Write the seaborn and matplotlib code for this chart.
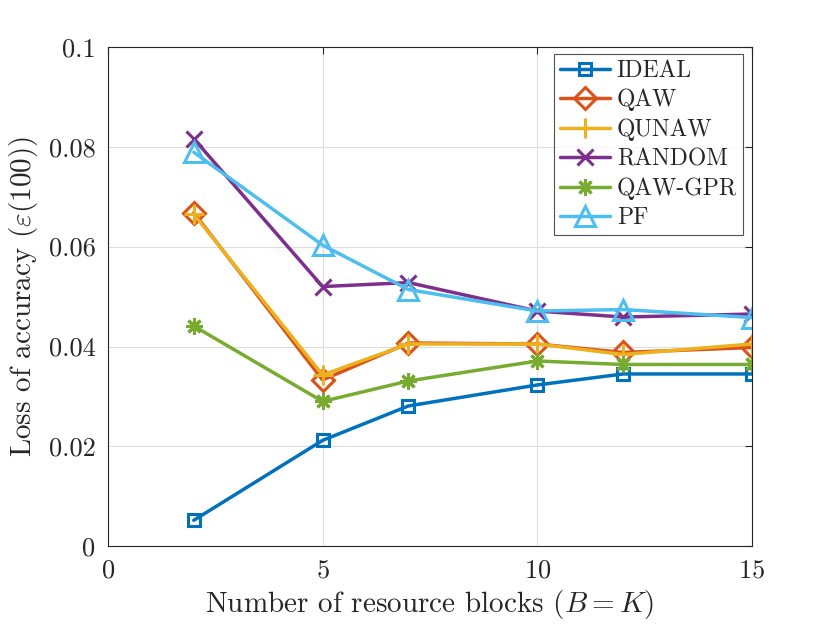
import pandas as pd
import seaborn as sns
import matplotlib.pyplot as plt

# data
blocks = [2, 5, 7, 10, 12, 15]
ideal = [0.0052, 0.0212, 0.0281, 0.0323, 0.0345, 0.0345]
qaw = [0.0668, 0.0333, 0.0407, 0.0405, 0.0388, 0.0398]
qunaw = [0.0665, 0.0343, 0.0405, 0.0405, 0.0384, 0.0405]
random_sel = [0.0816, 0.0520, 0.0528, 0.0471, 0.0459, 0.0465]
qaw_gpr = [0.0441, 0.0290, 0.0331, 0.0371, 0.0364, 0.0364]
pf = [0.0789, 0.0603, 0.0514, 0.0471, 0.0474, 0.0458]

series_names = ["IDEAL", "QAW", "QUNAW", "RANDOM", "QAW-GPR", "PF"]
series_values = [ideal, qaw, qunaw, random_sel, qaw_gpr, pf]
colors = ["#0072BD", "#D95319", "#EDB120", "#7E2F8E", "#77AC30", "#4DBEEE"]
markers = ["s", "D", "+", "x", (8, 2, 0), "^"]
msizes = [9, 11, 15, 11, 12, 14]

sns.set_style("white")
plt.rcParams["font.family"] = "serif"
plt.rcParams["font.serif"] = ["cmr10", "DejaVu Serif"]
plt.rcParams["mathtext.fontset"] = "cm"
plt.rcParams["axes.unicode_minus"] = False
plt.rcParams["axes.formatter.use_mathtext"] = True

fig = plt.figure(figsize=(8.3, 6.25), dpi=100)
ax = fig.add_axes([0.130, 0.126, 0.776, 0.799])

for name, vals, col, mk, ms in zip(series_names, series_values, colors, markers, msizes):
    df = pd.DataFrame({"B": blocks, "loss": vals})
    sns.lineplot(data=df, x="B", y="loss", ax=ax, color=col, linewidth=2.5,
                 marker=mk, markersize=ms, markerfacecolor="none",
                 markeredgecolor=col, markeredgewidth=2.2, label=name)

ax.set_xlim(0, 15)
ax.set_ylim(0, 0.1)
ax.set_xticks([0, 5, 10, 15])
ax.set_yticks([0, 0.02, 0.04, 0.06, 0.08, 0.1])
ax.set_yticklabels(["0", "0.02", "0.04", "0.06", "0.08", "0.1"])
ax.grid(True, color="#dedede", linewidth=0.8)
ax.tick_params(direction="in", length=5, width=0.8, labelsize=19, colors="#262626",
               top=True, right=True, pad=9)
for sp in ax.spines.values():
    sp.set_color("#262626")
    sp.set_linewidth(0.8)

ax.set_xlabel("Number of resource blocks ($B=K$)", fontsize=21, color="#262626",
              labelpad=4)
ax.set_ylabel(r"Loss of accuracy ($\varepsilon(100)$)", fontsize=21, color="#262626",
              labelpad=6)

leg = ax.legend(loc="upper right", bbox_to_anchor=(0.986, 0.986), fontsize=17,
                frameon=True, fancybox=False, borderpad=0.25, labelspacing=0.3,
                handlelength=2.1, handletextpad=0.3, borderaxespad=0.0)
leg.get_frame().set_edgecolor("#262626")
leg.get_frame().set_linewidth(0.8)

fig.savefig("out.png", dpi=100, facecolor="white")
